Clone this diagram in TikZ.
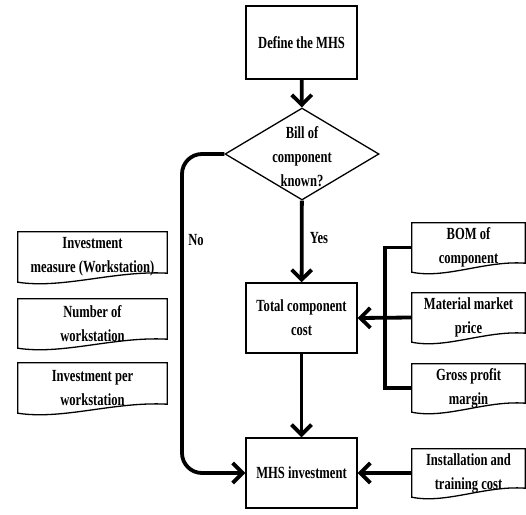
\documentclass[tikz,border=0pt]{standalone}
\usepackage{fontspec}
\setmainfont{Liberation Serif}[FakeStretch=0.74]
\usetikzlibrary{shapes.geometric,arrows.meta,calc}
\newcommand\docout[1]{\draw[docline] (#1.north west) -- (#1.north east) -- ([yshift=9pt]#1.south east) .. controls ($(#1.south west)!0.65!(#1.south east)+(0pt,12pt)$) and ($(#1.south west)!0.3!(#1.south east)+(0pt,-7pt)$) .. (#1.south west) -- cycle;}
\begin{document}
\begin{tikzpicture}[x=1pt,y=-1pt,
  every node/.style={font=\fontsize{17}{24}\selectfont\bfseries, text=black, align=center},
  box/.style={draw, line width=1.3pt, minimum width=111pt, inner sep=0pt},
  docnode/.style={inner sep=0pt},
  docline/.style={line width=1.3pt},
  flow/.style={line width=3.8pt, -{Straight Barb[length=10pt,width=20pt]}},
  flowline/.style={line width=3.8pt}
]
\useasboundingbox (0,0) rectangle (526,514);

% main column
\node[box, minimum height=73pt] (def) at (301.5,42.5) {Define the MHS};
\node[diamond, draw, line width=1.3pt, minimum width=154pt, minimum height=92pt, inner sep=0pt] (dia) at (302,154) {};
\node (diat) at (302,157) {Bill of\\component\\known?};
\node[box, minimum height=70pt] (tot) at (301.5,318) {Total component\\cost};
\node[box, minimum height=70pt] (mhs) at (301.5,473) {MHS investment};

% left documents
\node[docnode, minimum width=149pt, minimum height=50pt] (im) at (92.5,257) {Investment\\measure (Workstation)};
\node[docnode, minimum width=149pt, minimum height=49pt] (nw) at (92.5,323.5) {Number of\\workstation};
\node[docnode, minimum width=149pt, minimum height=50pt] (ipw) at (92.5,388) {Investment per\\workstation};
\docout{im}\docout{nw}\docout{ipw}

% right documents
\node[docnode, minimum width=113pt, minimum height=49pt] (bom) at (468.5,247.5) {BOM of\\component};
\node[docnode, minimum width=113pt, minimum height=49pt] (mat) at (468.5,317.5) {Material market\\price};
\node[docnode, minimum width=113pt, minimum height=48pt] (gross) at (468.5,388) {Gross profit\\margin};
\node[docnode, minimum width=113pt, minimum height=48pt] (inst) at (468.5,473) {Installation and\\training cost};
\docout{bom}\docout{mat}\docout{gross}\docout{inst}

% labels
\node (no) at (196,240) {No};
\node (yes) at (319,238) {Yes};

% connectors
\draw[flow] (def) -- (dia);
\draw[flow] (dia) -- (tot);
\draw[flow] (tot) -- (mhs);
\draw[flow, rounded corners=20pt] (dia.west) -- (182,154) -- (182,473) -- (mhs.west);
\draw[flowline] (bom.west) -- ++(-27,0) |- (gross.west);
\draw[flow] (mat.west) -- (tot.east);
\draw[flow] (inst.west) -- (mhs.east);
\end{tikzpicture}
\end{document}
